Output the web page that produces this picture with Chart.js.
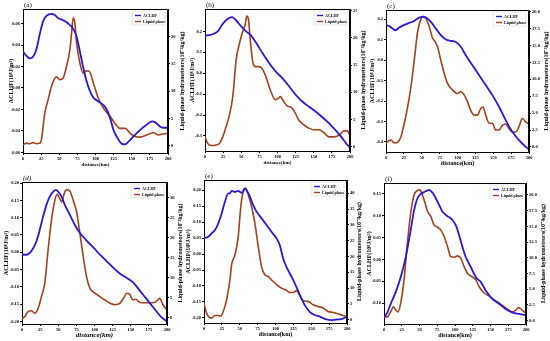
<!DOCTYPE html>
<html><head><meta charset="utf-8">
<script src="https://cdn.jsdelivr.net/npm/chart.js@4.4.1/dist/chart.umd.min.js"></script>
<style>
html,body{margin:0;padding:0;background:#fff;}
#wrap{position:relative;width:550px;height:341px;overflow:hidden;background:#fff;}
canvas{position:absolute;}
</style></head><body><div id="wrap"></div>
<script>
// ---------- DATA ----------
const xTicks = [0,25,50,75,100,125,150,175,200];
const seriesNames = ['ACLHF','Liquid phase'];

// (a)
const aBlueKm = [0,4.6,9.2,13.9,18.5,23.1,27.7,32.3,39.3,43.9,48.5,55.4,62.4,69.3,73.9,78.5,83.1,87.8,92.4,97.0,103.9,110.9,115.5,120.1,124.7,131.6,136.3,140.9,145.5,152.4,161.7,170.9,177.8,182.5,189.4,194.0,200];
const aBlue = [0.034,0.030,0.0275,0.029,0.036,0.050,0.062,0.067,0.069,0.068,0.065,0.063,0.060,0.055,0.048,0.034,0.019,0.006,-0.003,-0.009,-0.0125,-0.016,-0.020,-0.028,-0.039,-0.048,-0.052,-0.0525,-0.050,-0.045,-0.039,-0.034,-0.031,-0.032,-0.036,-0.037,-0.037];
const aRedKm = [0,4.6,9.2,13.9,18.5,23.1,25.4,30.0,34.6,39.3,46.2,50.8,55.4,60.0,64.7,67.0,69.3,71.6,73.9,78.5,83.1,87.8,91.5,97.0,103.9,110.9,120.1,127.0,133.9,140.9,147.8,154.7,161.7,170.9,180.1,187.1,194.0,200];
const aRed = [0.2,0.5,0.4,0.6,0.4,0.5,1.1,6.0,8.4,10.9,12.6,12.1,12.4,14.5,17.6,20.6,23.4,22.4,18.8,15.1,13.3,13.7,13.6,11.5,8.7,6.9,5.4,4.1,3.2,3.2,2.3,1.7,1.6,2.0,2.4,2.0,2.2,2.3];
const aLeftTicks = ['-0.06','-0.04','-0.02','0.00','0.02','0.04','0.06'];
const aRightTicks = ['0','5','10','15','20'];

// (b)
const bBlueKm = [0,6.0,12.9,17.6,24.5,31.4,37.4,43.0,49.9,56.8,63.7,70.7,79.9,89.1,98.4,107.6,116.9,126.1,135.3,144.6,153.8,163.0,172.3,181.5,188.5,195.4,200];
const bBlue = [0.18,0.182,0.19,0.20,0.236,0.26,0.268,0.252,0.224,0.20,0.18,0.144,0.093,0.045,0.005,-0.027,-0.067,-0.107,-0.139,-0.163,-0.187,-0.214,-0.243,-0.278,-0.307,-0.339,-0.355];
const bRedKm = [0,3.7,8.3,15.2,19.9,24.5,29.1,33.7,38.3,43.0,47.6,52.2,55.4,57.7,60.0,62.4,66.1,69.3,73.9,78.5,83.1,90.1,97.0,101.6,103.9,108.5,113.2,120.1,124.7,129.3,136.3,143.2,150.1,157.0,163.9,170.9,177.8,184.7,191.6,196.2,200];
const bRed = [1.8,0.6,0.2,0.3,0.6,1.8,3.7,5.8,9.2,16.0,19.0,21.2,22.4,24.0,23.3,19.7,15.4,14.7,14.7,14.4,13.2,10.4,8.6,8.9,9.2,8.3,7.5,7.1,6.1,4.9,4.0,3.4,3.1,3.1,2.6,1.8,1.8,2.1,2.9,2.9,2.1];
const bLeftTicks = ['-0.3','-0.2','-0.1','0.0','0.1','0.2'];
const bRightTicks = ['0','5','10','15','20','25'];

// (c)
const cBlueKm = [0,4.7,9.3,13.0,18.6,25.6,32.6,39.5,46.5,51.2,55.8,62.8,69.8,76.7,83.7,90.7,97.7,104.7,111.6,120.9,130.2,139.5,148.8,158.1,167.4,176.7,186.0,193.0,200];
const cBlue = [0.171,0.166,0.154,0.146,0.159,0.172,0.182,0.192,0.208,0.211,0.208,0.187,0.154,0.122,0.101,0.094,0.089,0.065,0.024,-0.025,-0.074,-0.122,-0.171,-0.228,-0.293,-0.35,-0.391,-0.416,-0.437];
const cRedKm = [0,3.7,7.0,11.6,16.3,20.9,25.6,30.2,34.9,39.5,44.2,48.8,52.1,55.8,60.5,65.1,68.4,72.1,76.7,81.4,86.0,93.0,100.0,104.7,109.3,114.0,118.6,123.3,127.9,132.6,135.8,139.5,144.2,148.8,153.5,158.1,162.8,167.4,172.1,176.7,181.4,186.0,190.7,195.3,200];
const cRed = [0.5,0.9,1.0,0.6,0.7,1.5,3.5,5.9,8.9,12.8,17.0,18.9,19.3,19.0,17.8,16.1,15.6,14.8,12.8,10.9,9.4,8.4,7.9,8.2,7.7,6.7,5.4,4.7,4.7,5.7,5.9,4.7,3.5,3.5,2.5,2.5,3.2,3.4,2.7,2.2,2.2,3.0,4.2,3.7,3.4];
const cLeftTicks = ['-0.4','-0.3','-0.2','-0.1','0.0','0.1','0.2'];
const cRightTicks = ['0.0','2.5','5.0','7.5','10.0','12.5','15.0','17.5','20.0'];

// (d)
const dBlueKm = [0,6.0,10.6,15.2,19.9,24.5,29.1,33.7,38.3,43.0,46.7,49.9,54.5,59.1,66.1,73.0,79.9,89.1,98.4,107.6,116.9,126.1,135.3,144.6,153.8,163.0,172.3,181.5,190.8,200];
const dBlue = [-0.007,-0.007,-0.002,0.011,0.032,0.065,0.103,0.137,0.161,0.175,0.18,0.175,0.161,0.137,0.108,0.079,0.056,0.034,0.014,-0.007,-0.026,-0.045,-0.062,-0.074,-0.088,-0.112,-0.136,-0.160,-0.184,-0.200];
const dRedKm = [0,3.7,8.3,12.9,17.6,22.2,26.8,31.4,36.0,40.6,45.3,48.5,52.2,54.9,58.2,61.4,66.1,70.7,75.3,79.9,84.5,89.1,93.8,100.7,107.6,114.5,121.5,128.4,135.3,139.9,144.6,148.3,152.9,157.5,160.7,165.4,172.3,179.2,185.2,189.8,194.5,200];
const dRed = [-0.2,0.2,1.5,1.7,1.1,2.3,5.2,8.6,16.9,24.3,29.3,30.8,29.7,28.9,31.0,32.0,31.6,29.3,26.4,21.0,15.2,10.2,7.3,6.1,5.2,4.4,3.6,3.2,3.6,4.8,6.1,5.9,4.4,4.6,4.0,3.7,3.7,3.7,4.0,4.8,3.2,1.9];
const dLeftTicks = ['-0.20','-0.15','-0.10','-0.05','0.00','0.05','0.10','0.15','0.20'];
const dRightTicks = ['0','5','10','15','20','25','30'];

// (e)
const eBlueKm = [0,6.0,10.7,15.3,20.0,24.7,29.3,34.0,36.3,38.6,43.3,47.9,52.6,54.9,57.2,59.5,64.2,68.8,73.5,80.5,87.4,94.4,101.4,106.0,110.7,115.3,120.0,127.0,134.0,140.9,147.9,154.9,161.9,171.2,178.1,185.1,192.1,200];
const eBlue = [0.049,0.054,0.065,0.075,0.096,0.127,0.164,0.19,0.19,0.198,0.195,0.198,0.192,0.198,0.206,0.200,0.180,0.153,0.133,0.112,0.091,0.070,0.049,0.028,-0.014,-0.040,-0.061,-0.092,-0.128,-0.16,-0.181,-0.191,-0.196,-0.205,-0.207,-0.205,-0.204,-0.196];
const eRedKm = [0,2.8,6.0,10.7,15.3,20.0,23.3,27.0,31.6,36.3,38.6,43.3,47.9,50.2,52.6,55.8,58.1,61.9,66.5,71.2,75.8,80.5,85.1,89.8,94.4,101.4,108.4,115.3,120.0,124.7,129.3,134.0,138.6,145.6,152.6,159.5,166.5,173.5,180.5,187.4,194.4,200];
const eRed = [5.3,2.6,1.1,0.5,1.3,1.3,1.1,2.6,6.3,12.6,17.4,20.5,26.3,32.6,37.9,41.1,41.6,39.5,35.8,30.5,23.2,16.8,14.2,13.7,12.6,11.1,10.0,9.3,8.6,8.6,9.2,7.6,6.0,5.8,4.7,4.2,3.7,2.6,2.3,1.9,1.3,1.1];
const eLeftTicks = ['-0.20','-0.15','-0.10','-0.05','0.00','0.05','0.10','0.15','0.20'];
const eRightTicks = ['0','5','10','15','20','25','30','35','40'];

// (f)
const fBlueKm = [0,4.7,9.4,16.5,23.5,30.6,37.6,42.4,47.1,51.8,56.5,61.2,63.5,68.2,72.9,77.6,82.4,89.4,95.5,101.2,105.9,110.6,115.3,122.4,129.4,136.5,143.5,152.9,162.4,171.8,181.2,190.6,200];
const fBlue = [-0.133,-0.122,-0.102,-0.075,-0.041,0.005,0.067,0.113,0.14,0.15,0.154,0.158,0.159,0.153,0.14,0.125,0.109,0.099,0.092,0.078,0.055,0.028,0.005,-0.018,-0.041,-0.052,-0.072,-0.091,-0.102,-0.114,-0.122,-0.125,-0.128];
const fRedKm = [0,4.7,9.4,13.2,16.5,19.8,23.5,28.2,32.9,37.6,42.4,47.1,50.4,54.1,57.9,61.2,65.9,70.6,75.3,80.0,84.7,89.4,94.1,98.8,103.5,108.2,112.9,117.6,123.8,129.4,134.1,141.2,148.2,155.3,162.4,171.8,181.2,185.9,189.6,195.3,200];
const fRed = [0.6,0.6,1.4,2.2,1.7,1.4,2.8,6.5,12.3,17.1,20.0,20.7,20.8,20.0,18.7,17.4,16.6,15.2,14.9,14.4,13.4,11.8,10.2,10.1,10.3,9.9,8.6,7.5,7.0,6.5,5.4,4.4,3.9,3.3,2.8,2.0,1.4,1.7,2.1,1.6,1.2];
const fLeftTicks = ['-0.10','-0.05','0.00','0.05','0.10','0.15'];
const fRightTicks = ['0.0','2.5','5.0','7.5','10.0','12.5','15.0','17.5','20.0'];

// ---------- LAYOUT / STYLE ----------
const BLUE = '#2a18d2';
const RED = '#a2411b';
const FONT = '"Liberation Serif", "Times New Roman", serif';
const leftTitle = 'ACLHF(10⁸J/m³)';
const rightTitle = 'Liquid-phase hydrometeors(10⁻³kg/kg)';
const xTitle = 'distance(km)';

const panels = [
  {tag:'(a)', box:[23,9,168,153], wl:15, rtx:14, bk:aBlueKm, bv:aBlue, rk:aRedKm, rv:aRed, lt:aLeftTicks, rt:aRightTicks, lmin:-0.0605, lmax:0.0735, rmin:-1.3, rmax:25, xf:5, xi:false},
  {tag:'(b)', box:[205,9,350,151], wl:16, rtx:13, bk:bBlueKm, bv:bBlue, rk:bRedKm, rv:bRed, lt:bLeftTicks, rt:bRightTicks, lmin:-0.372, lmax:0.307, rmin:-0.8, rmax:25.3, xf:5, xi:false},
  {tag:'(c)', box:[386,10,529,152], wl:17, rtx:17, bk:cBlueKm, bv:cBlue, rk:cRedKm, rv:cRed, lt:cLeftTicks, rt:cRightTicks, lmin:-0.449, lmax:0.245, rmin:-0.75, rmax:20.25, xf:6, xi:false},
  {tag:'(d)', box:[22,182,167,324], wl:19, rtx:13, bk:dBlueKm, bv:dBlue, rk:dRedKm, rv:dRed, lt:dLeftTicks, rt:dRightTicks, lmin:-0.207, lmax:0.203, rmin:-1.6, rmax:33.9, xf:7, xi:true},
  {tag:'(e)', box:[204,180,347,323], wl:19, rtx:12, bk:eBlueKm, bv:eBlue, rk:eRedKm, rv:eRed, lt:eLeftTicks, rt:eRightTicks, lmin:-0.216, lmax:0.232, rmin:-1.05, rmax:44.2, xf:6, xi:false},
  {tag:'(f)', box:[384,183,526,324], wl:18, rtx:17, bk:fBlueKm, bv:fBlue, rk:fRedKm, rv:fRed, lt:fLeftTicks, rt:fRightTicks, lmin:-0.148, lmax:0.175, rmin:-0.53, rmax:21.9, xf:6, xi:false}
];

const zip = (xs, ys) => xs.map((x, i) => ({x, y: ys[i]}));

const decorPlugin = {
  id: 'decor',
  afterDraw(chart) {
    const p = chart.options.plugins.decor;
    const ctx = chart.ctx;
    const a = chart.chartArea;
    ctx.save();
    // frame
    ctx.strokeStyle = '#000';
    ctx.lineWidth = 1;
    ctx.beginPath();
    ctx.moveTo(Math.round(a.left) + 0.5, Math.round(a.top) + 0.5);
    ctx.lineTo(Math.round(a.right) - 0.5, Math.round(a.top) + 0.5);
    ctx.lineTo(Math.round(a.right) - 0.5, Math.round(a.bottom));
    ctx.stroke();
    // panel tag
    ctx.fillStyle = '#000';
    ctx.font = (p.italic ? 'italic ' : '') + '7px ' + FONT;
    ctx.textAlign = 'left';
    ctx.textBaseline = 'bottom';
    ctx.fillText(p.tag, a.left + 1, a.top - 0.5);
    // legend
    const lx = a.right - 34, ly = a.top + 3;
    ctx.fillStyle = '#fff';
    ctx.fillRect(lx - 2, ly - 1, 33, 14);
    ctx.strokeStyle = '#d8d8d8';
    ctx.lineWidth = 0.6;
    ctx.strokeRect(lx - 2, ly - 1, 33, 14);
    const items = [[BLUE, seriesNames[0]], [RED, seriesNames[1]]];
    items.forEach((it, i) => {
      const y = ly + 3.5 + i * 6;
      ctx.strokeStyle = it[0];
      ctx.lineWidth = 1.4;
      ctx.beginPath();
      ctx.moveTo(lx + 1, y);
      ctx.lineTo(lx + 7, y);
      ctx.stroke();
      ctx.fillStyle = '#000';
      ctx.font = 'bold 4px ' + FONT;
      ctx.textAlign = 'left';
      ctx.textBaseline = 'middle';
      ctx.fillText(it[1], lx + 9, y);
    });
    // right axis title (reads bottom to top)
    ctx.translate(a.right + p.rtx, (a.top + a.bottom) / 2);
    ctx.rotate(-Math.PI / 2);
    ctx.fillStyle = '#000';
    ctx.font = 'bold 6px ' + FONT;
    ctx.textAlign = 'center';
    ctx.textBaseline = 'middle';
    ctx.fillText(rightTitle, 0, 0);
    ctx.restore();
  }
};

const wrap = document.getElementById('wrap');
const Wr = 21, Pt = 9, H = 15;

panels.forEach(p => {
  const [l, t, r, b] = p.box;
  const Wl = p.wl;
  const cv = document.createElement('canvas');
  const w = (r - l) + Wl + Wr, h = (b - t) + Pt + H;
  cv.width = w; cv.height = h;
  cv.style.left = (l - Wl) + 'px'; cv.style.top = (t - Pt) + 'px';
  cv.style.width = w + 'px'; cv.style.height = h + 'px';
  wrap.appendChild(cv);
  const tickFont = {family: FONT, size: 4.5, weight: 'bold'};
  const lVals = p.lt.map(Number), rVals = p.rt.map(Number);
  new Chart(cv, {
    type: 'line',
    data: {datasets: [
      {label: seriesNames[0], data: zip(p.bk, p.bv), yAxisID: 'yL', borderColor: BLUE, borderWidth: 1.8, pointRadius: 0, cubicInterpolationMode: 'monotone', fill: false},
      {label: seriesNames[1], data: zip(p.rk, p.rv), yAxisID: 'yR', borderColor: RED, borderWidth: 1.6, pointRadius: 0, cubicInterpolationMode: 'monotone', fill: false}
    ]},
    options: {
      responsive: false, animation: false, devicePixelRatio: 1,
      layout: {padding: {top: Pt, left: 0, right: 0, bottom: 0}},
      plugins: {legend: {display: false}, tooltip: {enabled: false}, decor: {tag: p.tag, rtx: p.rtx, italic: p.xi}},
      scales: {
        x: {
          type: 'linear', min: 0, max: 200,
          afterFit: s => { s.height = H; },
          afterBuildTicks: s => { s.ticks = xTicks.map(v => ({value: v})); },
          ticks: {font: tickFont, color: '#000', padding: 1, maxRotation: 0, autoSkip: false, callback: v => String(v)},
          grid: {drawOnChartArea: false, tickLength: 2, color: '#000'},
          border: {color: '#000', width: 1},
          title: {display: true, text: xTitle, color: '#000', padding: 0, font: {family: FONT, size: p.xf, weight: 'bold', style: p.xi ? 'italic' : 'normal'}}
        },
        yL: {
          type: 'linear', position: 'left', min: p.lmin, max: p.lmax,
          afterFit: s => { s.width = Wl; },
          afterBuildTicks: s => { s.ticks = lVals.map(v => ({value: v})); },
          ticks: {font: tickFont, color: '#000', padding: 1, autoSkip: false, callback: v => p.lt[lVals.indexOf(v)]},
          grid: {drawOnChartArea: false, tickLength: 2, color: '#000'},
          border: {color: '#000', width: 1},
          title: {display: true, text: leftTitle, color: '#000', padding: 0, font: {family: FONT, size: 6, weight: 'bold'}}
        },
        yR: {
          type: 'linear', position: 'right', min: p.rmin, max: p.rmax,
          afterFit: s => { s.width = Wr; },
          afterBuildTicks: s => { s.ticks = rVals.map(v => ({value: v})); },
          ticks: {font: tickFont, color: '#000', padding: 1, autoSkip: false, callback: v => p.rt[rVals.indexOf(v)]},
          grid: {drawOnChartArea: false, tickLength: 2, color: '#000'},
          border: {color: '#000', width: 1}
        }
      }
    },
    plugins: [decorPlugin]
  });
});
</script>
</body></html>
